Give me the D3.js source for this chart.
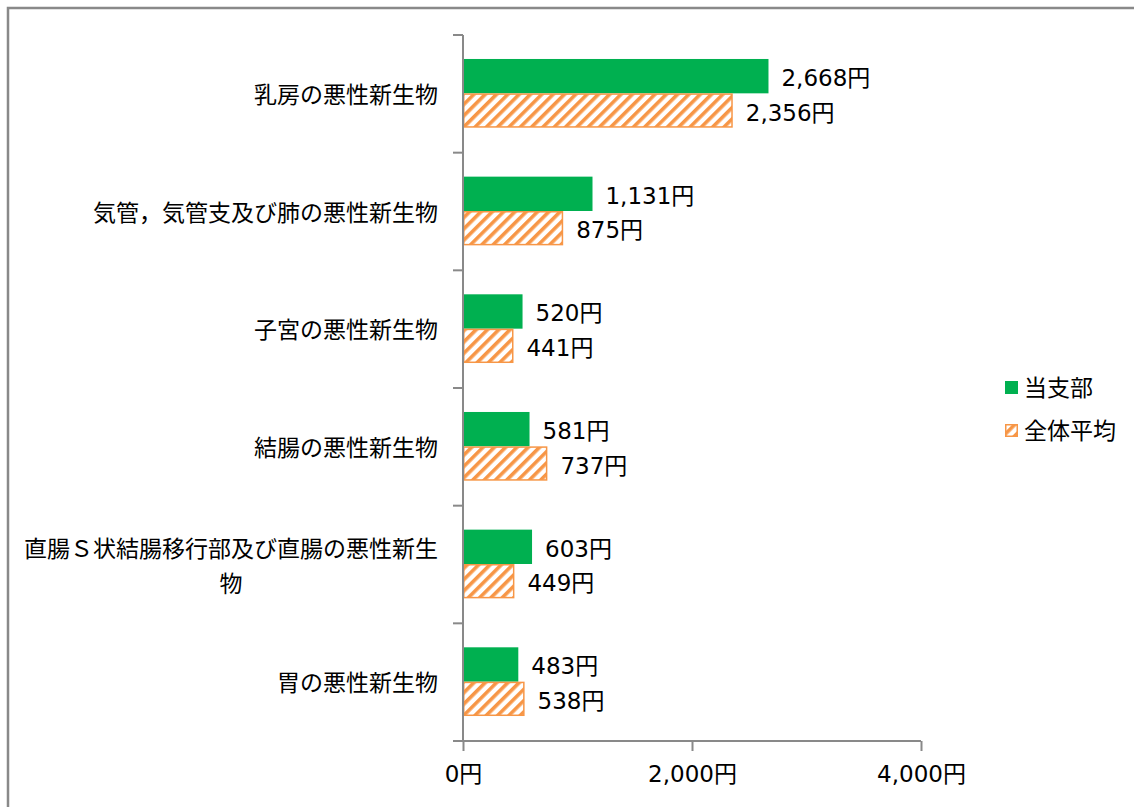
<!DOCTYPE html>
<html>
<head>
<meta charset="utf-8">
<script src="https://cdn.jsdelivr.net/npm/d3@7"></script>
<style>
  html, body { margin: 0; padding: 0; background: #fff; }
  svg text { font-family: "DejaVu Sans", "Noto Sans CJK JP", sans-serif; fill: #000; }
</style>
</head>
<body>
<svg id="chart" width="1134" height="807"></svg>
<script>
const categories = [
  ["乳房の悪性新生物"],
  ["気管，気管支及び肺の悪性新生物"],
  ["子宮の悪性新生物"],
  ["結腸の悪性新生物"],
  ["直腸Ｓ状結腸移行部及び直腸の悪性新生", "物"],
  ["胃の悪性新生物"]
];
const seriesNames = ["当支部", "全体平均"];
const branchValues = [2668, 1131, 520, 581, 603, 483];
const overallValues = [2356, 875, 441, 737, 449, 538];
const xTicks = [0, 2000, 4000];

const svg = d3.select("#chart");
const GREEN = "#00B050", ORANGE = "#F79646", AXIS = "#898989";
const FS = 23;

// hatch pattern
const defs = svg.append("defs");
const pat = defs.append("pattern").attr("id", "hatch")
  .attr("patternUnits", "userSpaceOnUse").attr("width", 8).attr("height", 8)
  .attr("patternTransform", "rotate(45)");
pat.append("rect").attr("width", 8).attr("height", 8).attr("fill", "#fff");
pat.append("rect").attr("x", 0).attr("y", 0).attr("width", 3.6).attr("height", 8).attr("fill", ORANGE);

// frame
svg.append("rect").attr("x", 8).attr("y", 8).attr("width", 1140).attr("height", 810)
  .attr("fill", "none").attr("stroke", AXIS).attr("stroke-width", 2.5);

const x = d3.scaleLinear().domain([0, 4000]).range([463, 921]);
const y = d3.scaleBand().domain(categories.map((d, i) => i)).range([35, 741]).padding(0);
const barH = y.bandwidth() * 0.292;

// bars
const g = svg.append("g");
categories.forEach((c, i) => {
  const cy = y(i) + y.bandwidth() / 2 - 0.5;
  g.append("rect").attr("x", x(0)).attr("y", cy - barH).attr("width", x(branchValues[i]) - x(0))
    .attr("height", barH).attr("fill", GREEN);
  g.append("rect").attr("x", x(0) + 0.75).attr("y", cy + 0.75).attr("width", x(overallValues[i]) - x(0) - 1.5)
    .attr("height", barH - 1.5).attr("fill", "url(#hatch)").attr("stroke", ORANGE).attr("stroke-width", 1.5);
  g.append("text").attr("x", x(branchValues[i]) + 13).attr("y", cy - barH / 2 + 2)
    .attr("dominant-baseline", "central").attr("font-size", FS)
    .text(d3.format(",")(branchValues[i]) + "円");
  g.append("text").attr("x", x(overallValues[i]) + 13).attr("y", cy + barH / 2 + 2)
    .attr("dominant-baseline", "central").attr("font-size", FS)
    .text(d3.format(",")(overallValues[i]) + "円");
});

// y axis
svg.append("line").attr("x1", 463).attr("x2", 463).attr("y1", 35).attr("y2", 741)
  .attr("stroke", AXIS).attr("stroke-width", 2);
const bounds = categories.map((d, i) => y(i)).concat([741]);
bounds.forEach(b => {
  svg.append("line").attr("x1", 453).attr("x2", 463).attr("y1", b).attr("y2", b)
    .attr("stroke", AXIS).attr("stroke-width", 2);
});

// category labels
categories.forEach((lines, i) => {
  const cy = y(i) + y.bandwidth() / 2;
  if (lines.length === 1) {
    svg.append("text").attr("x", 438).attr("y", cy + 1).attr("text-anchor", "end")
      .attr("dominant-baseline", "central").attr("font-size", FS).text(lines[0]);
  } else {
    const t1 = svg.append("text").attr("x", 438).attr("y", cy - 16).attr("text-anchor", "end")
      .attr("dominant-baseline", "central").attr("font-size", FS).text(lines[0]);
    const w = t1.node().getComputedTextLength();
    svg.append("text").attr("x", 438 - w / 2).attr("y", cy + 19).attr("text-anchor", "middle")
      .attr("dominant-baseline", "central").attr("font-size", FS).text(lines[1]);
  }
});

// x axis
const xAxis = svg.append("g").attr("transform", "translate(0,741)")
  .call(d3.axisBottom(x).tickValues(xTicks).tickSize(10).tickPadding(15)
    .tickFormat(d => d3.format(",")(d) + "円"));
xAxis.select(".domain").attr("stroke", AXIS).attr("stroke-width", 2).attr("d", "M453,0H921");
xAxis.selectAll(".tick line").attr("stroke", AXIS).attr("stroke-width", 2);
xAxis.selectAll(".tick text").attr("font-size", FS).attr("fill", "#000")
  .attr("font-family", "DejaVu Sans, Noto Sans CJK JP, sans-serif");

// legend
const legend = svg.append("g");
const legY = [388, 431];
seriesNames.forEach((n, i) => {
  if (i === 0) {
    legend.append("rect").attr("x", 1005).attr("y", legY[i] - 7).attr("width", 13).attr("height", 13).attr("fill", GREEN);
  } else {
    legend.append("rect").attr("x", 1005.75).attr("y", legY[i] - 6.25).attr("width", 11.5).attr("height", 11.5)
      .attr("fill", "url(#hatch)").attr("stroke", ORANGE).attr("stroke-width", 1.5);
  }
  legend.append("text").attr("x", 1024).attr("y", legY[i]).attr("dominant-baseline", "central")
    .attr("font-size", FS).text(n);
});
</script>
</body>
</html>
